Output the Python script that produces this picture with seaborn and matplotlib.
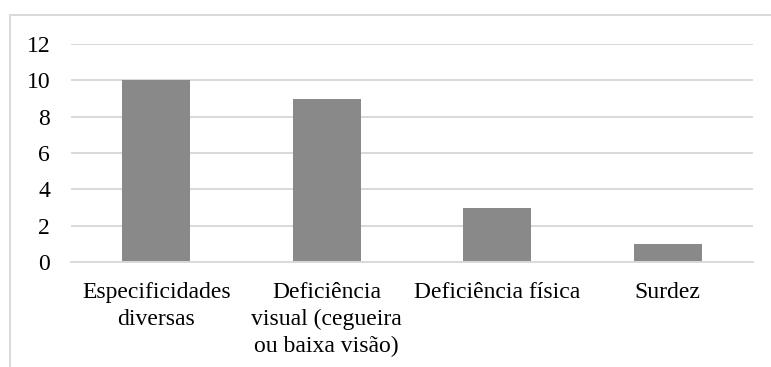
import matplotlib
matplotlib.use("Agg")
import matplotlib.pyplot as plt
from matplotlib.lines import Line2D
import seaborn as sns
import pandas as pd

categories = [
    "Especificidades\ndiversas",
    "Deficiência\nvisual (cegueira\nou baixa visão)",
    "Deficiência física",
    "Surdez",
]
values = [10, 9, 3, 1]
y_ticks = [0, 2, 4, 6, 8, 10, 12]

df = pd.DataFrame({"categoria": categories, "valor": values})

sns.set_theme(style="white")
plt.rcParams["font.family"] = ["Liberation Serif", "DejaVu Serif"]

W, H = 771, 367
fig = plt.figure(figsize=(W / 100, H / 100), dpi=100)
ax = fig.add_axes([71 / W, 1 - 262 / H, (753 - 71) / W, (262 - 44) / H])

sns.barplot(data=df, x="categoria", y="valor", color="#898989",
            saturation=1, width=0.4, ax=ax, zorder=3,
            edgecolor="none", linewidth=0)

ax.set_ylim(0, 12)
ax.set_yticks(y_ticks)
ax.set_xlim(-0.5, len(categories) - 0.5)
ax.set_xlabel("")
ax.set_ylabel("")

grid_color = "#d9d9d9"
for t in y_ticks[1:]:
    ax.axhline(t, color=grid_color, lw=1.4, zorder=1)

for side in ["top", "right", "left"]:
    ax.spines[side].set_visible(False)
ax.spines["bottom"].set_color(grid_color)
ax.spines["bottom"].set_linewidth(1.4)
ax.spines["bottom"].set_zorder(4)

ax.tick_params(axis="y", length=0, pad=15, labelsize=17, labelcolor="#000000")
ax.tick_params(axis="x", length=0, pad=14.5, labelsize=17, labelcolor="#000000")
for lbl in ax.get_xticklabels():
    lbl.set_linespacing(1.35)
    lbl.set_horizontalalignment("center")

# chart-area frame (left and top edges)
x0, y0 = 9.5 / W, 1 - 14.5 / H
fig.add_artist(Line2D([x0, 1.0], [y0, y0], transform=fig.transFigure,
                      color=grid_color, lw=1.4))
fig.add_artist(Line2D([x0, x0], [0.0, y0], transform=fig.transFigure,
                      color=grid_color, lw=1.4))

fig.savefig("out.png", dpi=100)
